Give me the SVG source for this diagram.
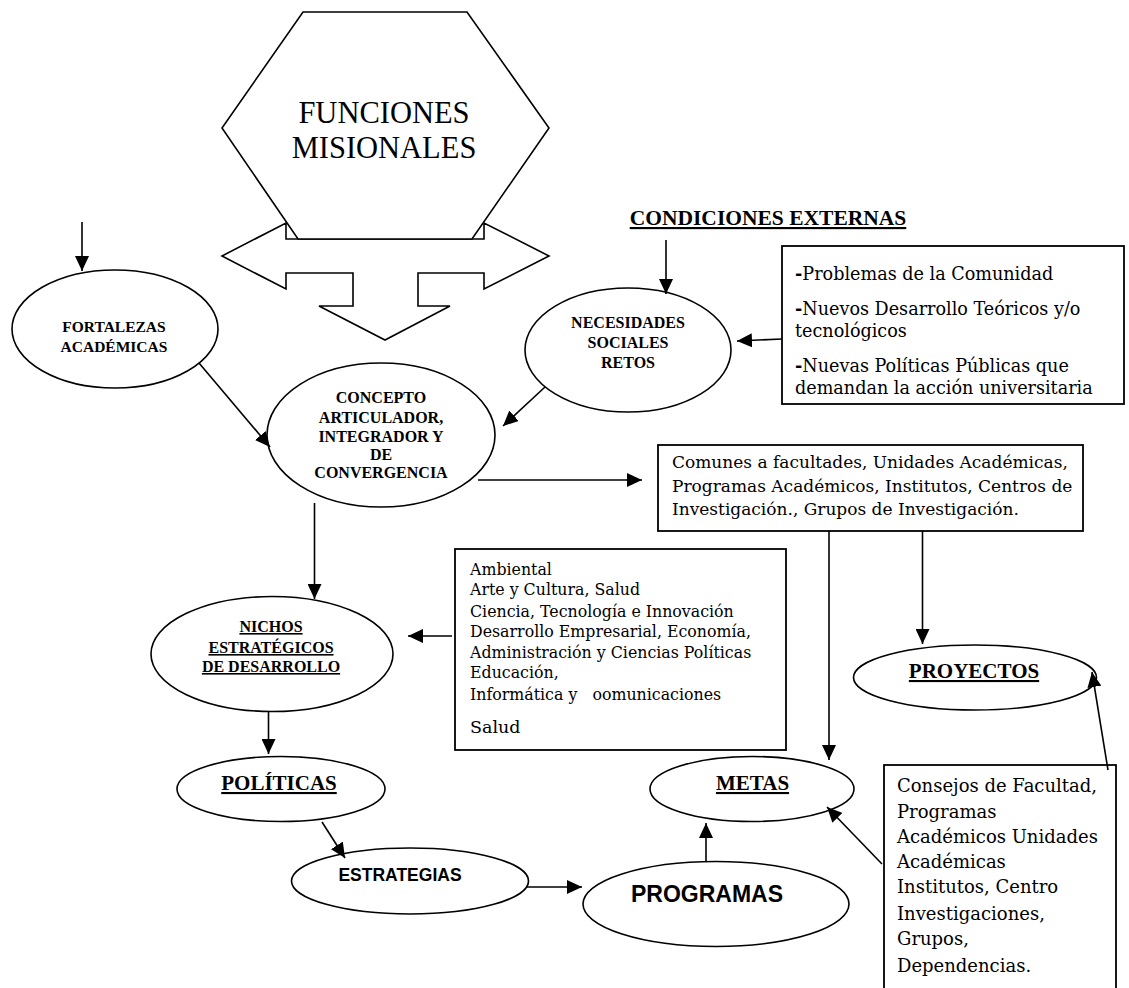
<svg xmlns="http://www.w3.org/2000/svg" width="1129" height="988" viewBox="0 0 1129 988">
<style>
.shape{fill:#fff;stroke:#000;stroke-width:1.6}
.box{fill:#fff;stroke:#000;stroke-width:1.8}
.edge{fill:none;stroke:#000;stroke-width:1.6;marker-end:url(#ah)}
.hex{font-family:"Liberation Serif",serif;font-size:30.5px;text-anchor:middle;fill:#000}
.hb{font-family:"Liberation Serif",serif;font-weight:bold;font-size:16px;text-anchor:middle;fill:#000}
.hu{font-family:"Liberation Serif",serif;font-weight:bold;font-size:21px;text-anchor:middle;text-decoration:underline;fill:#000}
.sb{font-family:"Liberation Sans",sans-serif;font-weight:bold;text-anchor:middle;fill:#000}
.body{font-family:"DejaVu Serif",serif;fill:#000;white-space:pre}
.amb{font-size:15.8px}
</style>
<defs>
<marker id="ah" viewBox="0 0 15 14" refX="15" refY="7" markerWidth="15" markerHeight="14" markerUnits="userSpaceOnUse" orient="auto">
<path d="M0,0 L15,7 L0,14 z" fill="#000"/>
</marker>
</defs>

<g id="block-arrow">
<polygon class="shape" points="286,239 286,223 222,256 286,289 286,273 353,273 353,306 319,306 385,340 450,306 418,306 418,273 484,273 484,289 549,256 484,223 484,239"/>
</g>
<g id="funciones">
<polygon class="shape" points="303,12 467,12 549,128 472,239 298,239 222,128"/>
<text class="hex" x="384" y="123">FUNCIONES</text>
<text class="hex" x="384" y="158">MISIONALES</text>
</g>

<g id="fortalezas">
<ellipse class="shape" cx="115" cy="329" rx="103" ry="59"/>
<text class="hb" x="114" y="332" style="font-size:15.5px">FORTALEZAS</text>
<text class="hb" x="114" y="352" style="font-size:15.5px">ACADÉMICAS</text>
</g>

<g id="condiciones">
<text class="hu" x="768" y="225" style="font-size:21.5px">CONDICIONES EXTERNAS</text>
</g>

<g id="necesidades">
<ellipse class="shape" cx="628" cy="350" rx="103" ry="62"/>
<text class="hb" x="628" y="328">NECESIDADES</text>
<text class="hb" x="628" y="348">SOCIALES</text>
<text class="hb" x="628" y="368">RETOS</text>
</g>

<g id="condiciones-box">
<rect class="box" x="782" y="246" width="342" height="158"/>
<text class="body" x="795" y="280" style="font-size:17.6px"><tspan font-weight="bold">-</tspan>Problemas de la Comunidad</text>
<text class="body" x="795" y="315" style="font-size:17.6px"><tspan font-weight="bold">-</tspan>Nuevos Desarrollo Teóricos y/o</text>
<text class="body" x="795" y="337" style="font-size:17.6px">tecnológicos</text>
<text class="body" x="795" y="372" style="font-size:17.6px"><tspan font-weight="bold">-</tspan>Nuevas Políticas Públicas que</text>
<text class="body" x="795" y="394" style="font-size:17.6px">demandan la acción universitaria</text>
</g>

<g id="concepto">
<ellipse class="shape" cx="381" cy="435" rx="114" ry="72"/>
<text class="hb" x="381" y="403">CONCEPTO</text>
<text class="hb" x="381" y="423">ARTICULADOR,</text>
<text class="hb" x="381" y="442">INTEGRADOR Y</text>
<text class="hb" x="381" y="460">DE</text>
<text class="hb" x="381" y="478">CONVERGENCIA</text>
</g>

<g id="comunes">
<rect class="box" x="658" y="445" width="425" height="86"/>
<text class="body" x="672" y="468" style="font-size:17px">Comunes a facultades, Unidades Académicas,</text>
<text class="body" x="672" y="492" style="font-size:17px">Programas Académicos, Institutos, Centros de</text>
<text class="body" x="672" y="515" style="font-size:17px">Investigación., Grupos de Investigación.</text>
</g>

<g id="ambiental">
<rect class="box" x="455" y="549" width="331" height="201"/>
<text class="body amb" x="470" y="575">Ambiental</text>
<text class="body amb" x="470" y="595">Arte y Cultura, Salud</text>
<text class="body amb" x="470" y="617">Ciencia, Tecnología e Innovación</text>
<text class="body amb" x="470" y="637">Desarrollo Empresarial, Economía,</text>
<text class="body amb" x="470" y="658">Administración y Ciencias Políticas</text>
<text class="body amb" x="470" y="678">Educación,</text>
<text class="body amb" x="470" y="700">Informática y   oomunicaciones</text>
<text class="body" x="470" y="733" style="font-size:17.5px">Salud</text>
</g>

<g id="nichos">
<ellipse class="shape" cx="272" cy="654" rx="121" ry="57.5"/>
<text class="hb" x="271" y="632" style="text-decoration:underline">NICHOS</text>
<text class="hb" x="271" y="653" style="text-decoration:underline">ESTRATÉGICOS</text>
<text class="hb" x="271" y="672" style="text-decoration:underline">DE DESARROLLO</text>
</g>

<g id="proyectos">
<ellipse class="shape" cx="975" cy="677.5" rx="121.5" ry="32.5"/>
<text class="hu" x="974" y="678">PROYECTOS</text>
</g>

<g id="politicas">
<ellipse class="shape" cx="281" cy="789" rx="104" ry="32.5"/>
<text class="hu" x="279" y="790">POLÍTICAS</text>
</g>

<g id="metas">
<ellipse class="shape" cx="752" cy="789" rx="102" ry="32.5"/>
<text class="hu" x="752.5" y="790">METAS</text>
</g>

<g id="estrategias">
<ellipse class="shape" cx="410" cy="881" rx="118.5" ry="33"/>
<text class="sb" x="400" y="881" style="font-size:17.5px">ESTRATEGIAS</text>
</g>

<g id="programas">
<ellipse class="shape" cx="716" cy="904" rx="133" ry="42.5"/>
<text class="sb" x="707" y="902" style="font-size:23px">PROGRAMAS</text>
</g>

<g id="consejos">
<rect class="box" x="884" y="765" width="232" height="240"/>
<text class="body" x="897" y="792" style="font-size:18px">Consejos de Facultad,</text>
<text class="body" x="897" y="818" style="font-size:18px">Programas</text>
<text class="body" x="897" y="843" style="font-size:18px">Académicos Unidades</text>
<text class="body" x="897" y="868" style="font-size:18px">Académicas</text>
<text class="body" x="897" y="893" style="font-size:18px">Institutos, Centro</text>
<text class="body" x="897" y="920" style="font-size:18px">Investigaciones,</text>
<text class="body" x="897" y="945" style="font-size:18px">Grupos,</text>
<text class="body" x="897" y="972" style="font-size:18px">Dependencias.</text>
</g>

<g id="connectors">
<line class="edge" x1="82" y1="222" x2="82" y2="271"/>
<line class="edge" x1="199" y1="363" x2="270" y2="447"/>
<line class="edge" x1="545" y1="387" x2="503" y2="426"/>
<line class="edge" x1="666" y1="240" x2="666" y2="294"/>
<line class="edge" x1="782" y1="339" x2="737" y2="341"/>
<line class="edge" x1="478" y1="480" x2="642" y2="480"/>
<line class="edge" x1="314.5" y1="503" x2="314.5" y2="599"/>
<line class="edge" x1="452" y1="636" x2="408" y2="636"/>
<line class="edge" x1="268.5" y1="711" x2="268.5" y2="754"/>
<line class="edge" x1="322" y1="822" x2="345" y2="858"/>
<line class="edge" x1="527" y1="887" x2="582" y2="887"/>
<line class="edge" x1="706" y1="862" x2="706" y2="823"/>
<line class="edge" x1="829" y1="531" x2="829" y2="760"/>
<line class="edge" x1="922.5" y1="531" x2="922.5" y2="644"/>
<line class="edge" x1="882" y1="864" x2="827" y2="807"/>
<line class="edge" x1="1108" y1="770" x2="1092" y2="672"/>
</g>
</svg>
